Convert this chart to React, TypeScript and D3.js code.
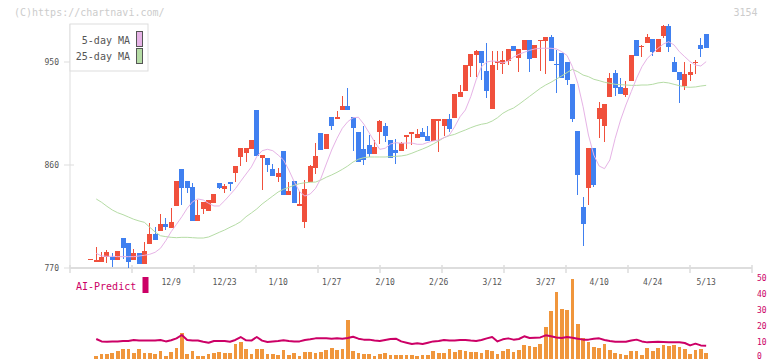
import React from 'react';
import * as d3 from 'd3';

const titleText = '(C)https://chartnavi.com/';
const codeText = '3154';
const dateLabels = ['12/9', '12/23', '1/10', '1/27', '2/10', '2/26', '3/12', '3/27', '4/10', '4/24', '5/13'];
const dateLabelIdx = [15, 25, 35, 45, 55, 65, 75, 85, 95, 105, 115];
const priceTicks = [770, 860, 950];
const volTicks = [0, 10, 20, 30, 40, 50];

const open = [
  777.3, 775.5, 775.5, 779.3, 779.6, 776.7, 796.2, 791.8, 776.7, 783.1,
  773.5, 791.2, 799.7, 802.6, 808.4, 805, 824.4, 856.5, 846, 840.8,
  811.3, 821.8, 820.1, 826.8, 844.3, 839.3, 845.1, 853.3, 867.3, 870.2,
  874, 908.1, 866.4, 866.1, 856.5, 849.5, 872.2, 833.8, 846, 824.4,
  810.5, 845.1, 857.4, 888, 874, 901.9, 900.5, 908.1, 911.6, 901.9,
  888.8, 874, 877.5, 869.6, 888.8, 894.1, 881.8, 873.1, 872.2, 884.5,
  887.4, 883.9, 888.8, 885.3, 881, 898.4, 894.1, 900.2, 901.1, 919.4,
  924.7, 946.5, 956.1, 959.6, 942.1, 908.9, 949.1, 948.3, 950.9, 964,
  953.5, 960.5, 969.2, 953.5, 968.4, 968.4, 971.8, 948.3, 957.9, 950,
  930.8, 889.7, 823.3, 839.9, 874.9, 900.2, 894.1, 919.4, 940.4, 928.2,
  921.2, 933.4, 969.2, 963.4, 966.6, 970.1, 958.7, 972.7, 981.5, 950,
  941.3, 929, 938.6, 949.1, 964.9, 974.5,
];
const high = [
  778, 788.3, 784, 785.4, 783.4, 784.9, 796.2, 791.8, 786.3, 783.1,
  792.7, 809.3, 805.6, 817.2, 813.7, 822.4, 846, 856.5, 846, 844.3,
  829.4, 827.7, 829.4, 834.7, 844.3, 843.4, 845.1, 859.1, 874.9, 874.9,
  881.8, 908.1, 868.7, 866.1, 860.9, 857.4, 872.2, 845.1, 846, 837.3,
  846.9, 860, 879.2, 888, 887.1, 901.9, 907.2, 920.3, 927.3, 901.9,
  888.8, 894.1, 886.2, 881.8, 899.3, 896.7, 881.8, 882.7, 880.1, 886.2,
  888.8, 891.5, 892.3, 894.1, 900.2, 900.2, 900.2, 904.6, 922, 929.9,
  947.4, 957, 960.5, 959.6, 966.6, 959.6, 959.6, 959.6, 961.4, 964,
  961.4, 969.2, 969.2, 964.8, 969.2, 971.8, 973.6, 960.5, 957.9, 950,
  930.8, 889.7, 832, 874.9, 874.9, 915, 913.3, 940.4, 943, 936,
  933.4, 956.1, 969.2, 964.9, 974.5, 970.1, 970.1, 982.3, 983.2, 954.4,
  941.3, 950, 948.3, 951.7, 971, 974.5,
];
const low = [
  777, 775.5, 775.5, 774.1, 771.2, 776.7, 778.2, 769.7, 776.7, 773.5,
  773.5, 791.2, 794.5, 802.6, 803.2, 805, 824.4, 825.3, 835.8, 811.3,
  811.3, 817.5, 820.1, 826.8, 838.8, 835.8, 837.3, 845.4, 859.4, 862.6,
  874, 868.2, 838.2, 853.9, 850.4, 845.1, 833.8, 833.8, 827.1, 824.4,
  805.2, 845.1, 852.4, 873.4, 874, 890.6, 900.5, 908.1, 908.1, 872.2,
  862.6, 860, 867, 869.6, 878.4, 880.1, 866.1, 860.9, 872.2, 874,
  877.5, 883.9, 884.5, 881, 881, 871.4, 885.3, 888.8, 901.1, 919.4,
  924.7, 936.9, 936.9, 934.3, 918.5, 908.9, 943, 939.5, 947.4, 959.6,
  941.3, 960.5, 941.3, 953.5, 942.1, 939.5, 950.9, 922.9, 936, 929.9,
  897.8, 833.8, 789.2, 825.1, 841, 883.6, 880.1, 919.4, 920.3, 922,
  919.4, 933.4, 955.2, 954.4, 966.6, 955.2, 958.7, 971, 958.7, 941.3,
  914.2, 925.5, 933.4, 939.5, 954.4, 962.2,
];
const close = [
  777.9, 777, 779.6, 784, 776.7, 784.9, 787.8, 775.5, 783.1, 773.5,
  784.9, 799.7, 794.5, 808.4, 806.1, 810.2, 846, 839.5, 839.9, 811.3,
  816.3, 827.7, 829.4, 834.7, 840.2, 841.7, 843.7, 859.1, 874.9, 874.9,
  881.8, 868.2, 868.7, 860, 850.4, 853, 833.8, 837.3, 827.1, 825.9,
  839, 859.1, 867.9, 873.4, 887.1, 894.1, 901.9, 911.6, 908.1, 892.3,
  862.6, 864.4, 869.6, 875.7, 898.4, 885.3, 866.1, 870.5, 879.2, 886.2,
  888.8, 887.1, 884.5, 881, 900.2, 900.2, 900.2, 891.5, 922, 923.8,
  947.4, 957, 959.6, 949.1, 924.7, 947.4, 950.9, 951.7, 961.4, 959.6,
  961.4, 969.2, 952.6, 964.8, 969.2, 971.8, 950.9, 947.4, 936, 934.3,
  900.2, 851.3, 808.4, 874.9, 842.5, 909.8, 913.3, 936, 927.3, 922,
  927.3, 956.1, 955.2, 964, 971.8, 958.7, 970.1, 981.5, 963.1, 941.3,
  934.3, 939.5, 941.3, 950, 961.4, 962.2,
];

const ma5: (number | null)[] = [
  null, 782.8, 780.5, 780.2, 780.2, 779.9, 779.9, 779.9, 779.9, 780.5,
  781.1, 782.0, 783.7, 787.2, 793.9, 801.7, 808.2, 814.8, 822.2, 827.9,
  830.3, 829.4, 826.5, 824.2, 824.2, 828.8, 834.0, 839.3, 845.8, 852.1,
  858.3, 867.3, 872.5, 873.7, 872.5, 868.7, 864.4, 855.6, 845.4, 836.7,
  832.9, 834.7, 839.6, 848.4, 860.9, 873.1, 883.3, 892.1, 897.8, 901.3,
  901.7, 895.8, 888.2, 880.4, 873.7, 874.6, 878.4, 879.5, 879.0, 879.2,
  879.2, 878.1, 878.1, 879.8, 881.0, 881.8, 883.9, 886.2, 893.5, 902.2,
  908.1, 919.7, 934.3, 945.9, 950.0, 950.9, 950.4, 949.1, 950.9, 954.4,
  956.7, 958.5, 960.2, 961.4, 962.0, 962.0, 962.0, 961.4, 959.0, 955.7,
  945.9, 931.4, 910.9, 886.2, 868.7, 859.1, 856.8, 864.4, 883.3, 899.3,
  912.4, 924.1, 935.8, 945.9, 953.2, 957.6, 962.0, 965.7, 967.7, 964.9,
  959.0, 954.6, 950.3, 947.4, 946.5, 950.3,
];
const ma25: (number | null)[] = [
  null, 830.3, 827.4, 823.9, 820.7, 818.3, 816.6, 814.6, 812.6, 811.1,
  809.9, 805.6, 801.5, 798.2, 797.4, 796.8, 796.5, 796.8, 796.8, 796.5,
  796.2, 796.2, 797.1, 799.1, 801.2, 803.2, 805.6, 807.8, 810.5, 814.8,
  818.1, 821.6, 825.9, 829.4, 832.9, 836.4, 838.8, 840.5, 842.3, 843.7,
  844.5, 844.9, 845.1, 846.9, 849.3, 851.3, 853.6, 856.2, 859.1, 862.6,
  865.0, 866.4, 867.0, 867.0, 867.0, 867.0, 867.3, 867.6, 867.9, 868.7,
  870.3, 872.2, 874.0, 876.0, 878.4, 881.0, 883.9, 885.6, 886.8, 888.8,
  890.6, 892.6, 894.3, 895.6, 896.4, 898.4, 901.3, 905.2, 907.8, 909.8,
  913.0, 916.5, 920.0, 923.5, 927.0, 929.9, 932.3, 935.1, 937.8, 940.8,
  943.6, 941.5, 938.6, 937.2, 934.9, 933.7, 932.3, 931.4, 930.5, 930.2,
  929.9, 929.6, 929.6, 929.9, 929.9, 930.5, 931.7, 932.3, 931.7, 930.5,
  929.3, 928.2, 927.9, 928.2, 929.0, 929.6,
];

const volume: (number | null)[] = [
  null, 1.9, 3.1, 3.1, 3.75, 5.2, 6.25, 6.25, 3.75, 6.25,
  3.75, 3.75, 3.1, 5, 1.9, 4.4, 6.9, 16.25, 3.1, 5,
  1.9, 1.9, 3.1, 3.75, 4.4, 3.75, 3.75, 9.4, 10.6, 6.25,
  3.1, 6.25, 6.25, 3.1, 3.1, 2.5, 5.6, 2.5, 3.75, 1.9,
  4.4, 4.4, 3.75, 4.4, 5.6, 6.9, 5.6, 6.25, 24.4, 5,
  3.75, 3.1, 3.1, 1.9, 3.1, 3.75, 2.5, 2.5, 2.5, 2.5,
  2.5, 1.9, 2.5, 2.5, 5, 3.75, 3.75, 6.25, 4.4, 5.6,
  5, 4.4, 4.4, 3.75, 5.6, 5, 3.1, 5, 6.25, 4.4,
  5.6, 8.75, 8.1, 7.5, 9.4, 20, 30, 41.9, 31.25, 30.6,
  50, 21.9, 13.1, 10.6, 7.5, 6.9, 9.4, 5.6, 3.75, 3.1,
  2.5, 5, 5, 2.5, 6.9, 5, 6.9, 8.75, 8.1, 8.75,
  7.5, 6.25, 3.1, 5.6, 6.25, 3.75,
];
const aiPredict: (number | null)[] = [
  null, 12.5, 11, 10.8, 11, 11, 11.25, 11.25, 11.9, 11.5,
  11.5, 11.5, 11.5, 11.9, 11, 11.7, 12.9, 15, 11.9, 11.5,
  11.5, 10.8, 10.2, 11.25, 11.25, 11.25, 10.8, 11.9, 13.75, 11.7,
  11.5, 13.75, 11.5, 10.6, 11, 11.25, 11.7, 11.25, 11, 11,
  11.9, 12.3, 12.9, 12.9, 12.9, 12.7, 12.9, 12.7, 13.1, 13.9,
  12.7, 12.1, 12.1, 11.5, 11.25, 11.9, 12.5, 12.7, 11, 10.2,
  9.4, 9.8, 9.4, 10.2, 11, 11.25, 11.9, 11.5, 11.5, 11.9,
  11.9, 11.5, 11.25, 11.9, 12.9, 13.75, 11, 12.3, 12.9, 12.1,
  12.5, 14.2, 13.1, 13.3, 13.5, 14.8, 14.2, 13.5, 13.1, 13.75,
  13.3, 12.7, 12.1, 12.1, 12.7, 12.9, 11.9, 11.25, 10.8, 10.8,
  10.8, 11.5, 12.1, 11, 10.4, 10.6, 10.8, 10.6, 10.4, 10.4,
  10.4, 10, 8.5, 9.6, 8.5, 8.3,
];

const UP = '#f0503c';
const DOWN = '#4080f0';
const MA5_COLOR = '#e6b3e6';
const MA25_COLOR = '#b5dca5';
const VOL_COLOR = '#f0963c';
const AI_COLOR = '#cc0066';
const AXIS = '#dddddd';
const TEXT = '#555555';
const MONO = "'DejaVu Sans Mono', monospace";

export default function App() {
  const x = d3.scaleLinear().domain([0, 115]).range([90.9, 706.15]);
  const y = d3.scaleLinear().domain([770, 950]).range([268, 62]);
  const v = d3.scaleLinear().domain([0, 50]).range([359, 279]);
  const idx = d3.range(open.length);

  const priceLine = d3
    .line<number | null>()
    .defined((d) => d != null)
    .x((_, i) => x(i))
    .y((d) => y(d as number));
  const aiLine = d3
    .line<number | null>()
    .defined((d) => d != null)
    .x((_, i) => x(i))
    .y((d) => v(d as number));

  const bodyW = 5;
  const volW = 3.7;
  const gridTicks = d3.range(70, 753, 62);

  return (
    <svg
      width={772}
      height={361}
      style={{ position: 'absolute', left: 0, top: 0, background: '#fff' }}
    >
      <rect x={0} y={0} width={772} height={361} fill="#fff" />
      <text x={14} y={16} fontFamily={MONO} fontSize={10} fill="#cccccc">
        {titleText}
      </text>
      <text x={757.5} y={16} textAnchor="end" fontFamily={MONO} fontSize={10} fill="#cccccc">
        {codeText}
      </text>

      {/* y axis */}
      <line x1={70} y1={24} x2={70} y2={268} stroke={AXIS} strokeWidth={1} />
      {priceTicks.map((t) => (
        <g key={t}>
          <line x1={64} y1={y(t)} x2={74} y2={y(t)} stroke={AXIS} strokeWidth={1} />
          <text x={59} y={y(t) + 3} textAnchor="end" fontFamily={MONO} fontSize={8} fill={TEXT}>
            {t}
          </text>
        </g>
      ))}

      {/* x axis */}
      <line x1={70} y1={268} x2={752} y2={268} stroke={AXIS} strokeWidth={2} />
      {gridTicks.map((gx) => (
        <line key={gx} x1={gx} y1={265} x2={gx} y2={273} stroke={AXIS} strokeWidth={1.5} />
      ))}
      {dateLabels.map((lab, k) => (
        <text
          key={lab}
          x={x(dateLabelIdx[k])}
          y={285}
          textAnchor="middle"
          fontFamily={MONO}
          fontSize={8}
          fill={TEXT}
        >
          {lab}
        </text>
      ))}

      {/* candles */}
      <g shapeRendering="crispEdges">
        {idx.map((i) => {
          const up = close[i] >= open[i];
          const c = up ? UP : DOWN;
          const top = y(Math.max(open[i], close[i]));
          const bot = y(Math.min(open[i], close[i]));
          return (
            <g key={i}>
              <line x1={x(i)} x2={x(i)} y1={y(high[i])} y2={y(low[i])} stroke={c} strokeWidth={1} />
              <rect
                x={x(i) - bodyW / 2}
                y={top}
                width={bodyW}
                height={Math.max(1, bot - top)}
                fill={c}
              />
            </g>
          );
        })}
      </g>

      {/* moving averages */}
      <path d={priceLine(ma25) || ''} fill="none" stroke={MA25_COLOR} strokeWidth={1} />
      <path d={priceLine(ma5) || ''} fill="none" stroke={MA5_COLOR} strokeWidth={1} />

      {/* legend */}
      <rect x={70} y={24} width={78} height={47} fill="#fff" stroke={AXIS} strokeWidth={1} />
      <text x={130} y={44} textAnchor="end" fontFamily={MONO} fontSize={10} fill={TEXT}>
        5-day MA
      </text>
      <text x={130} y={60} textAnchor="end" fontFamily={MONO} fontSize={10} fill={TEXT}>
        25-day MA
      </text>
      <rect x={136.5} y={31.5} width={6} height={15} fill={MA5_COLOR} stroke="#555" strokeWidth={1} />
      <rect x={136.5} y={48.5} width={6} height={15} fill={MA25_COLOR} stroke="#555" strokeWidth={1} />

      {/* AI predict panel */}
      <text x={76} y={290} fontFamily={MONO} fontSize={10} fill={AI_COLOR}>
        AI-Predict
      </text>
      <rect x={142.5} y={277} width={6} height={16} fill={AI_COLOR} />
      <g shapeRendering="crispEdges">
        {idx
          .filter((i) => volume[i] != null)
          .map((i) => (
            <rect
              key={i}
              x={x(i) - volW / 2}
              y={v(volume[i] as number)}
              width={volW}
              height={v(0) - v(volume[i] as number)}
              fill={VOL_COLOR}
            />
          ))}
      </g>
      <path
        d={aiLine(aiPredict) || ''}
        fill="none"
        stroke={AI_COLOR}
        strokeWidth={2}
        strokeLinejoin="round"
      />
      {volTicks.map((t) => (
        <text
          key={t}
          x={757}
          y={Math.min(v(t) + 2, 358.5)}
          fontFamily={MONO}
          fontSize={8}
          fill={AI_COLOR}
        >
          {t}
        </text>
      ))}
    </svg>
  );
}
